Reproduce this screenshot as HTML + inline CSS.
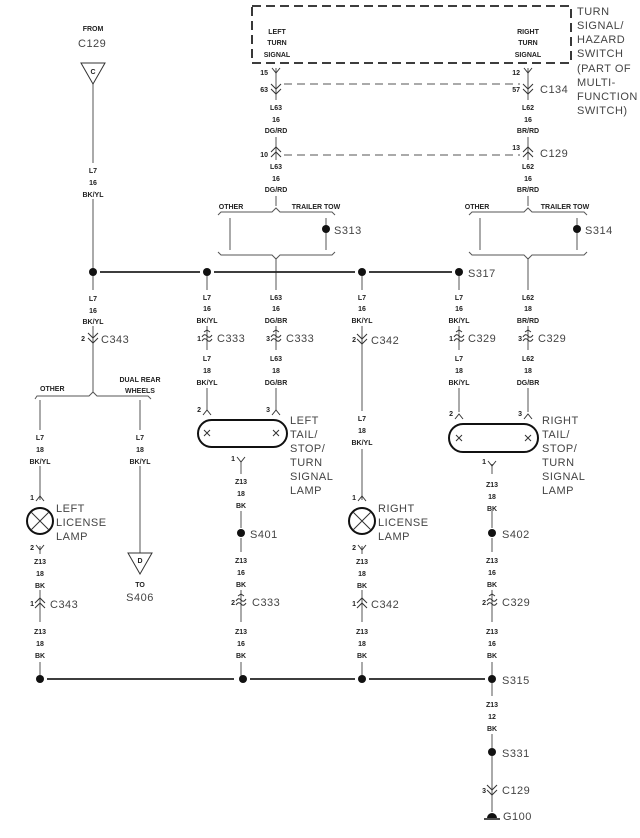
<!DOCTYPE html>
<html><head><meta charset="utf-8"><style>
html,body{margin:0;padding:0;background:#fff;}
svg{display:block;}
.w{font-family:"Liberation Sans Narrow","Liberation Sans",sans-serif;font-size:7px;font-weight:bold;fill:#222;text-anchor:middle;}
.p{font-family:"Liberation Sans Narrow","Liberation Sans",sans-serif;font-size:7px;font-weight:bold;fill:#222;text-anchor:end;}
.b{font-family:"Liberation Sans",sans-serif;font-size:11px;fill:#444;letter-spacing:0.5px;}
.bc{font-family:"Liberation Sans",sans-serif;font-size:11px;fill:#444;letter-spacing:0.5px;text-anchor:middle;}
</style></head><body>
<svg width="640" height="838" viewBox="0 0 640 838" xmlns="http://www.w3.org/2000/svg">
<defs>
<path id="dn2" d="M-5,-5 L0,0 L5,-5 M-5,0 L0,5 L5,0" fill="none" stroke="#333" stroke-width="1"/>
<path id="up2" d="M-5,5 L0,0 L5,5 M-5,0 L0,-5 L5,0" fill="none" stroke="#333" stroke-width="1"/>
<path id="wav" d="M-5,-1 Q-2.5,-5 0,-2 T5,-3 M-5,3 Q-2.5,-1 0,2 T5,1 M-3,-6 L0,-8 L3,-6" fill="none" stroke="#333" stroke-width="1"/>
<path id="yd" d="M-4,-5 L0,0 L4,-5" fill="none" stroke="#333" stroke-width="1"/>
<path id="yu" d="M-4,5 L0,0 L4,5" fill="none" stroke="#333" stroke-width="1"/>
</defs>
<g stroke="#555" stroke-width="1" fill="none">
<line x1="93" y1="84" x2="93" y2="163"/><line x1="93" y1="199" x2="93" y2="272"/>
<line x1="93" y1="272" x2="93" y2="290"/><line x1="93" y1="326" x2="93" y2="392"/>
<line x1="40" y1="400" x2="40" y2="430"/><line x1="40" y1="466" x2="40" y2="500"/>
<line x1="140" y1="400" x2="140" y2="430"/><line x1="140" y1="466" x2="140" y2="553"/>
<line x1="40" y1="546" x2="40" y2="554"/><line x1="40" y1="590" x2="40" y2="622"/><line x1="40" y1="662" x2="40" y2="676"/>
<line x1="276" y1="68" x2="276" y2="100"/><line x1="276" y1="137" x2="276" y2="160"/><line x1="276" y1="196" x2="276" y2="206"/>
<line x1="528" y1="68" x2="528" y2="100"/><line x1="528" y1="137" x2="528" y2="160"/><line x1="528" y1="196" x2="528" y2="206"/>
<line x1="230" y1="218" x2="230" y2="250"/><line x1="326" y1="218" x2="326" y2="250"/>
<line x1="480" y1="218" x2="480" y2="250"/><line x1="577" y1="218" x2="577" y2="250"/>
<line x1="276" y1="258" x2="276" y2="290"/><line x1="528" y1="258" x2="528" y2="290"/>
<line x1="207" y1="276" x2="207" y2="290"/><line x1="207" y1="326" x2="207" y2="350"/><line x1="207" y1="388" x2="207" y2="410"/>
<line x1="276" y1="326" x2="276" y2="350"/><line x1="276" y1="388" x2="276" y2="410"/>
<line x1="241" y1="462" x2="241" y2="474"/><line x1="241" y1="511" x2="241" y2="528"/><line x1="241" y1="538" x2="241" y2="552"/><line x1="241" y1="590" x2="241" y2="622"/><line x1="241" y1="662" x2="241" y2="676"/>
<line x1="362" y1="276" x2="362" y2="290"/><line x1="362" y1="326" x2="362" y2="411"/><line x1="362" y1="449" x2="362" y2="500"/>
<line x1="362" y1="546" x2="362" y2="554"/><line x1="362" y1="590" x2="362" y2="622"/><line x1="362" y1="662" x2="362" y2="676"/>
<line x1="459" y1="276" x2="459" y2="290"/><line x1="459" y1="326" x2="459" y2="350"/><line x1="459" y1="388" x2="459" y2="412"/>
<line x1="528" y1="326" x2="528" y2="350"/><line x1="528" y1="388" x2="528" y2="412"/>
<line x1="492" y1="464" x2="492" y2="474"/><line x1="492" y1="511" x2="492" y2="528"/><line x1="492" y1="538" x2="492" y2="552"/><line x1="492" y1="590" x2="492" y2="622"/><line x1="492" y1="662" x2="492" y2="676"/>
<line x1="492" y1="683" x2="492" y2="696"/><line x1="492" y1="734" x2="492" y2="748"/><line x1="492" y1="756" x2="492" y2="812"/>
<path d="M35,399 L37,396 L89,396 L93,392 L97,396 L148,396 L151,399"/>
<path d="M218,215 L221,212 L272,212 L276,208 L280,212 L332,212 L335,215"/>
<path d="M218,252 L221,255 L272,255 L276,259 L280,255 L332,255 L335,252"/>
<path d="M469,215 L472,212 L524,212 L528,208 L532,212 L584,212 L587,215"/>
<path d="M469,252 L472,255 L524,255 L528,259 L532,255 L584,255 L587,252"/>
<path d="M284,84 L520,84 M284,155 L520,155" stroke-dasharray="8,5"/>
</g>
<g stroke="#222" stroke-width="1.8">
<line x1="100" y1="272" x2="200" y2="272"/><line x1="214" y1="272" x2="355" y2="272"/><line x1="369" y1="272" x2="452" y2="272"/>
<line x1="47" y1="679" x2="234" y2="679"/><line x1="250" y1="679" x2="355" y2="679"/><line x1="369" y1="679" x2="485" y2="679"/>
</g>
<rect x="252" y="6" width="319" height="57" fill="none" stroke="#222" stroke-width="1.8" stroke-dasharray="9,5"/>
<g fill="#111">
<circle cx="93" cy="272" r="4"/><circle cx="207" cy="272" r="4"/><circle cx="362" cy="272" r="4"/><circle cx="459" cy="272" r="4"/>
<circle cx="326" cy="229" r="4"/><circle cx="577" cy="229" r="4"/>
<circle cx="241" cy="533" r="4"/><circle cx="492" cy="533" r="4"/>
<circle cx="40" cy="679" r="4"/><circle cx="243" cy="679" r="4"/><circle cx="362" cy="679" r="4"/><circle cx="492" cy="679" r="4"/>
<circle cx="492" cy="752" r="4"/>
<path d="M487,818 A5,5 0 0 1 497,818 Z"/>
</g>
<line x1="484" y1="819" x2="500" y2="819" stroke="#111" stroke-width="1.5"/>
<path d="M81,63 L105,63 L93,84 Z M128,553 L152,553 L140,574 Z" fill="none" stroke="#333" stroke-width="1"/>
<g fill="none" stroke="#111" stroke-width="2">
<circle cx="40" cy="521" r="13"/><circle cx="362" cy="521" r="13"/>
<rect x="198" y="420" width="89" height="27" rx="13.5"/>
<rect x="449" y="424" width="89" height="28" rx="14"/>
</g>
<g stroke="#333" stroke-width="1">
<path d="M31,512 L49,530 M49,512 L31,530 M353,512 L371,530 M371,512 L353,530"/>
<path d="M204,430 L210,436 M210,430 L204,436 M273,430 L279,436 M279,430 L273,436"/>
<path d="M456,435 L462,441 M462,435 L456,441 M525,435 L531,441 M531,435 L525,441"/>
</g>
<use href="#yd" x="276" y="73"/><use href="#yd" x="528" y="73"/>
<use href="#dn2" x="276" y="89"/><use href="#dn2" x="528" y="89"/>
<use href="#up2" x="276" y="152"/><use href="#up2" x="528" y="152"/>
<use href="#dn2" x="93" y="338"/><use href="#dn2" x="362" y="339"/><use href="#dn2" x="492" y="790"/>
<use href="#up2" x="40" y="603"/><use href="#up2" x="362" y="603"/>
<use href="#wav" x="207" y="338"/><use href="#wav" x="276" y="338"/><use href="#wav" x="459" y="338"/><use href="#wav" x="528" y="338"/>
<use href="#wav" x="241" y="602"/><use href="#wav" x="492" y="602"/>
<use href="#yu" x="207" y="410"/><use href="#yu" x="276" y="410"/><use href="#yu" x="459" y="414"/><use href="#yu" x="528" y="414"/>
<use href="#yu" x="40" y="496"/><use href="#yu" x="362" y="496"/>
<use href="#yd" x="241" y="462"/><use href="#yd" x="492" y="466"/>
<use href="#yd" x="40" y="550"/><use href="#yd" x="362" y="550"/>
<g class="w">
<text x="93" y="31">FROM</text>
<text x="93" y="74">C</text><text x="140" y="563">D</text><text x="140" y="587">TO</text>
<text x="93" y="173">L7</text><text x="93" y="185">16</text><text x="93" y="197">BK/YL</text>
<text x="93" y="301">L7</text><text x="93" y="313">16</text><text x="93" y="324">BK/YL</text>
<text x="40" y="391" style="text-anchor:start">OTHER</text>
<text x="140" y="382">DUAL REAR</text><text x="140" y="393">WHEELS</text>
<text x="40" y="440">L7</text><text x="40" y="452">18</text><text x="40" y="464">BK/YL</text>
<text x="140" y="440">L7</text><text x="140" y="452">18</text><text x="140" y="464">BK/YL</text>
<text x="40" y="564">Z13</text><text x="40" y="576">18</text><text x="40" y="588">BK</text>
<text x="40" y="634">Z13</text><text x="40" y="646">18</text><text x="40" y="658">BK</text>
<text x="277" y="34">LEFT</text><text x="277" y="45">TURN</text><text x="277" y="57">SIGNAL</text>
<text x="528" y="34">RIGHT</text><text x="528" y="45">TURN</text><text x="528" y="57">SIGNAL</text>
<text x="276" y="110">L63</text><text x="276" y="122">16</text><text x="276" y="133">DG/RD</text>
<text x="276" y="169">L63</text><text x="276" y="181">16</text><text x="276" y="192">DG/RD</text>
<text x="528" y="110">L62</text><text x="528" y="122">16</text><text x="528" y="133">BR/RD</text>
<text x="528" y="169">L62</text><text x="528" y="181">16</text><text x="528" y="192">BR/RD</text>
<text x="231" y="209">OTHER</text><text x="316" y="209">TRAILER TOW</text>
<text x="477" y="209">OTHER</text><text x="565" y="209">TRAILER TOW</text>
<text x="207" y="300">L7</text><text x="207" y="311">16</text><text x="207" y="323">BK/YL</text>
<text x="207" y="361">L7</text><text x="207" y="373">18</text><text x="207" y="385">BK/YL</text>
<text x="276" y="300">L63</text><text x="276" y="311">16</text><text x="276" y="323">DG/BR</text>
<text x="276" y="361">L63</text><text x="276" y="373">18</text><text x="276" y="385">DG/BR</text>
<text x="241" y="484">Z13</text><text x="241" y="496">18</text><text x="241" y="508">BK</text>
<text x="241" y="563">Z13</text><text x="241" y="575">16</text><text x="241" y="587">BK</text>
<text x="241" y="634">Z13</text><text x="241" y="646">16</text><text x="241" y="658">BK</text>
<text x="362" y="300">L7</text><text x="362" y="311">16</text><text x="362" y="323">BK/YL</text>
<text x="362" y="421">L7</text><text x="362" y="433">18</text><text x="362" y="445">BK/YL</text>
<text x="362" y="564">Z13</text><text x="362" y="576">18</text><text x="362" y="588">BK</text>
<text x="362" y="634">Z13</text><text x="362" y="646">18</text><text x="362" y="658">BK</text>
<text x="459" y="300">L7</text><text x="459" y="311">16</text><text x="459" y="323">BK/YL</text>
<text x="459" y="361">L7</text><text x="459" y="373">18</text><text x="459" y="385">BK/YL</text>
<text x="528" y="300">L62</text><text x="528" y="311">18</text><text x="528" y="323">BR/RD</text>
<text x="528" y="361">L62</text><text x="528" y="373">18</text><text x="528" y="385">DG/BR</text>
<text x="492" y="487">Z13</text><text x="492" y="499">18</text><text x="492" y="511">BK</text>
<text x="492" y="563">Z13</text><text x="492" y="575">16</text><text x="492" y="587">BK</text>
<text x="492" y="634">Z13</text><text x="492" y="646">16</text><text x="492" y="658">BK</text>
<text x="492" y="707">Z13</text><text x="492" y="719">12</text><text x="492" y="731">BK</text>
</g>
<g class="p">
<text x="268" y="75">15</text><text x="268" y="92">63</text><text x="268" y="157">10</text>
<text x="520" y="75">12</text><text x="520" y="92">57</text><text x="520" y="150">13</text>
<text x="85" y="341">2</text><text x="201" y="341">1</text><text x="270" y="341">3</text><text x="356" y="342">2</text><text x="453" y="341">1</text><text x="522" y="341">3</text>
<text x="201" y="412">2</text><text x="270" y="412">3</text><text x="453" y="416">2</text><text x="522" y="416">3</text>
<text x="235" y="461">1</text><text x="486" y="464">1</text>
<text x="34" y="500">1</text><text x="356" y="500">1</text><text x="34" y="550">2</text><text x="356" y="550">2</text>
<text x="34" y="606">1</text><text x="356" y="606">1</text><text x="235" y="605">2</text><text x="486" y="605">2</text>
<text x="486" y="793">3</text>
</g>
<g class="b">
<text x="78" y="47">C129</text>
<text x="577" y="15">TURN</text><text x="577" y="29">SIGNAL/</text><text x="577" y="43">HAZARD</text><text x="577" y="57">SWITCH</text>
<text x="577" y="72">(PART OF</text><text x="577" y="86">MULTI-</text><text x="577" y="100">FUNCTION</text><text x="577" y="114">SWITCH)</text>
<text x="540" y="93">C134</text><text x="540" y="157">C129</text>
<text x="334" y="234">S313</text><text x="585" y="234">S314</text><text x="468" y="277">S317</text>
<text x="101" y="343">C343</text><text x="217" y="342">C333</text><text x="286" y="342">C333</text><text x="371" y="344">C342</text><text x="468" y="342">C329</text><text x="538" y="342">C329</text>
<text x="56" y="512">LEFT</text><text x="56" y="526">LICENSE</text><text x="56" y="540">LAMP</text>
<text x="378" y="512">RIGHT</text><text x="378" y="526">LICENSE</text><text x="378" y="540">LAMP</text>
<text x="290" y="424">LEFT</text><text x="290" y="438">TAIL/</text><text x="290" y="452">STOP/</text><text x="290" y="466">TURN</text><text x="290" y="480">SIGNAL</text><text x="290" y="494">LAMP</text>
<text x="542" y="424">RIGHT</text><text x="542" y="438">TAIL/</text><text x="542" y="452">STOP/</text><text x="542" y="466">TURN</text><text x="542" y="480">SIGNAL</text><text x="542" y="494">LAMP</text>
<text x="250" y="538">S401</text><text x="502" y="538">S402</text>
<text x="50" y="608">C343</text><text x="252" y="606">C333</text><text x="371" y="608">C342</text><text x="502" y="606">C329</text>
<text x="502" y="684">S315</text><text x="502" y="757">S331</text><text x="502" y="794">C129</text><text x="503" y="820">G100</text>
</g>
<text class="bc" x="140" y="601">S406</text>
</svg>
</body></html>
